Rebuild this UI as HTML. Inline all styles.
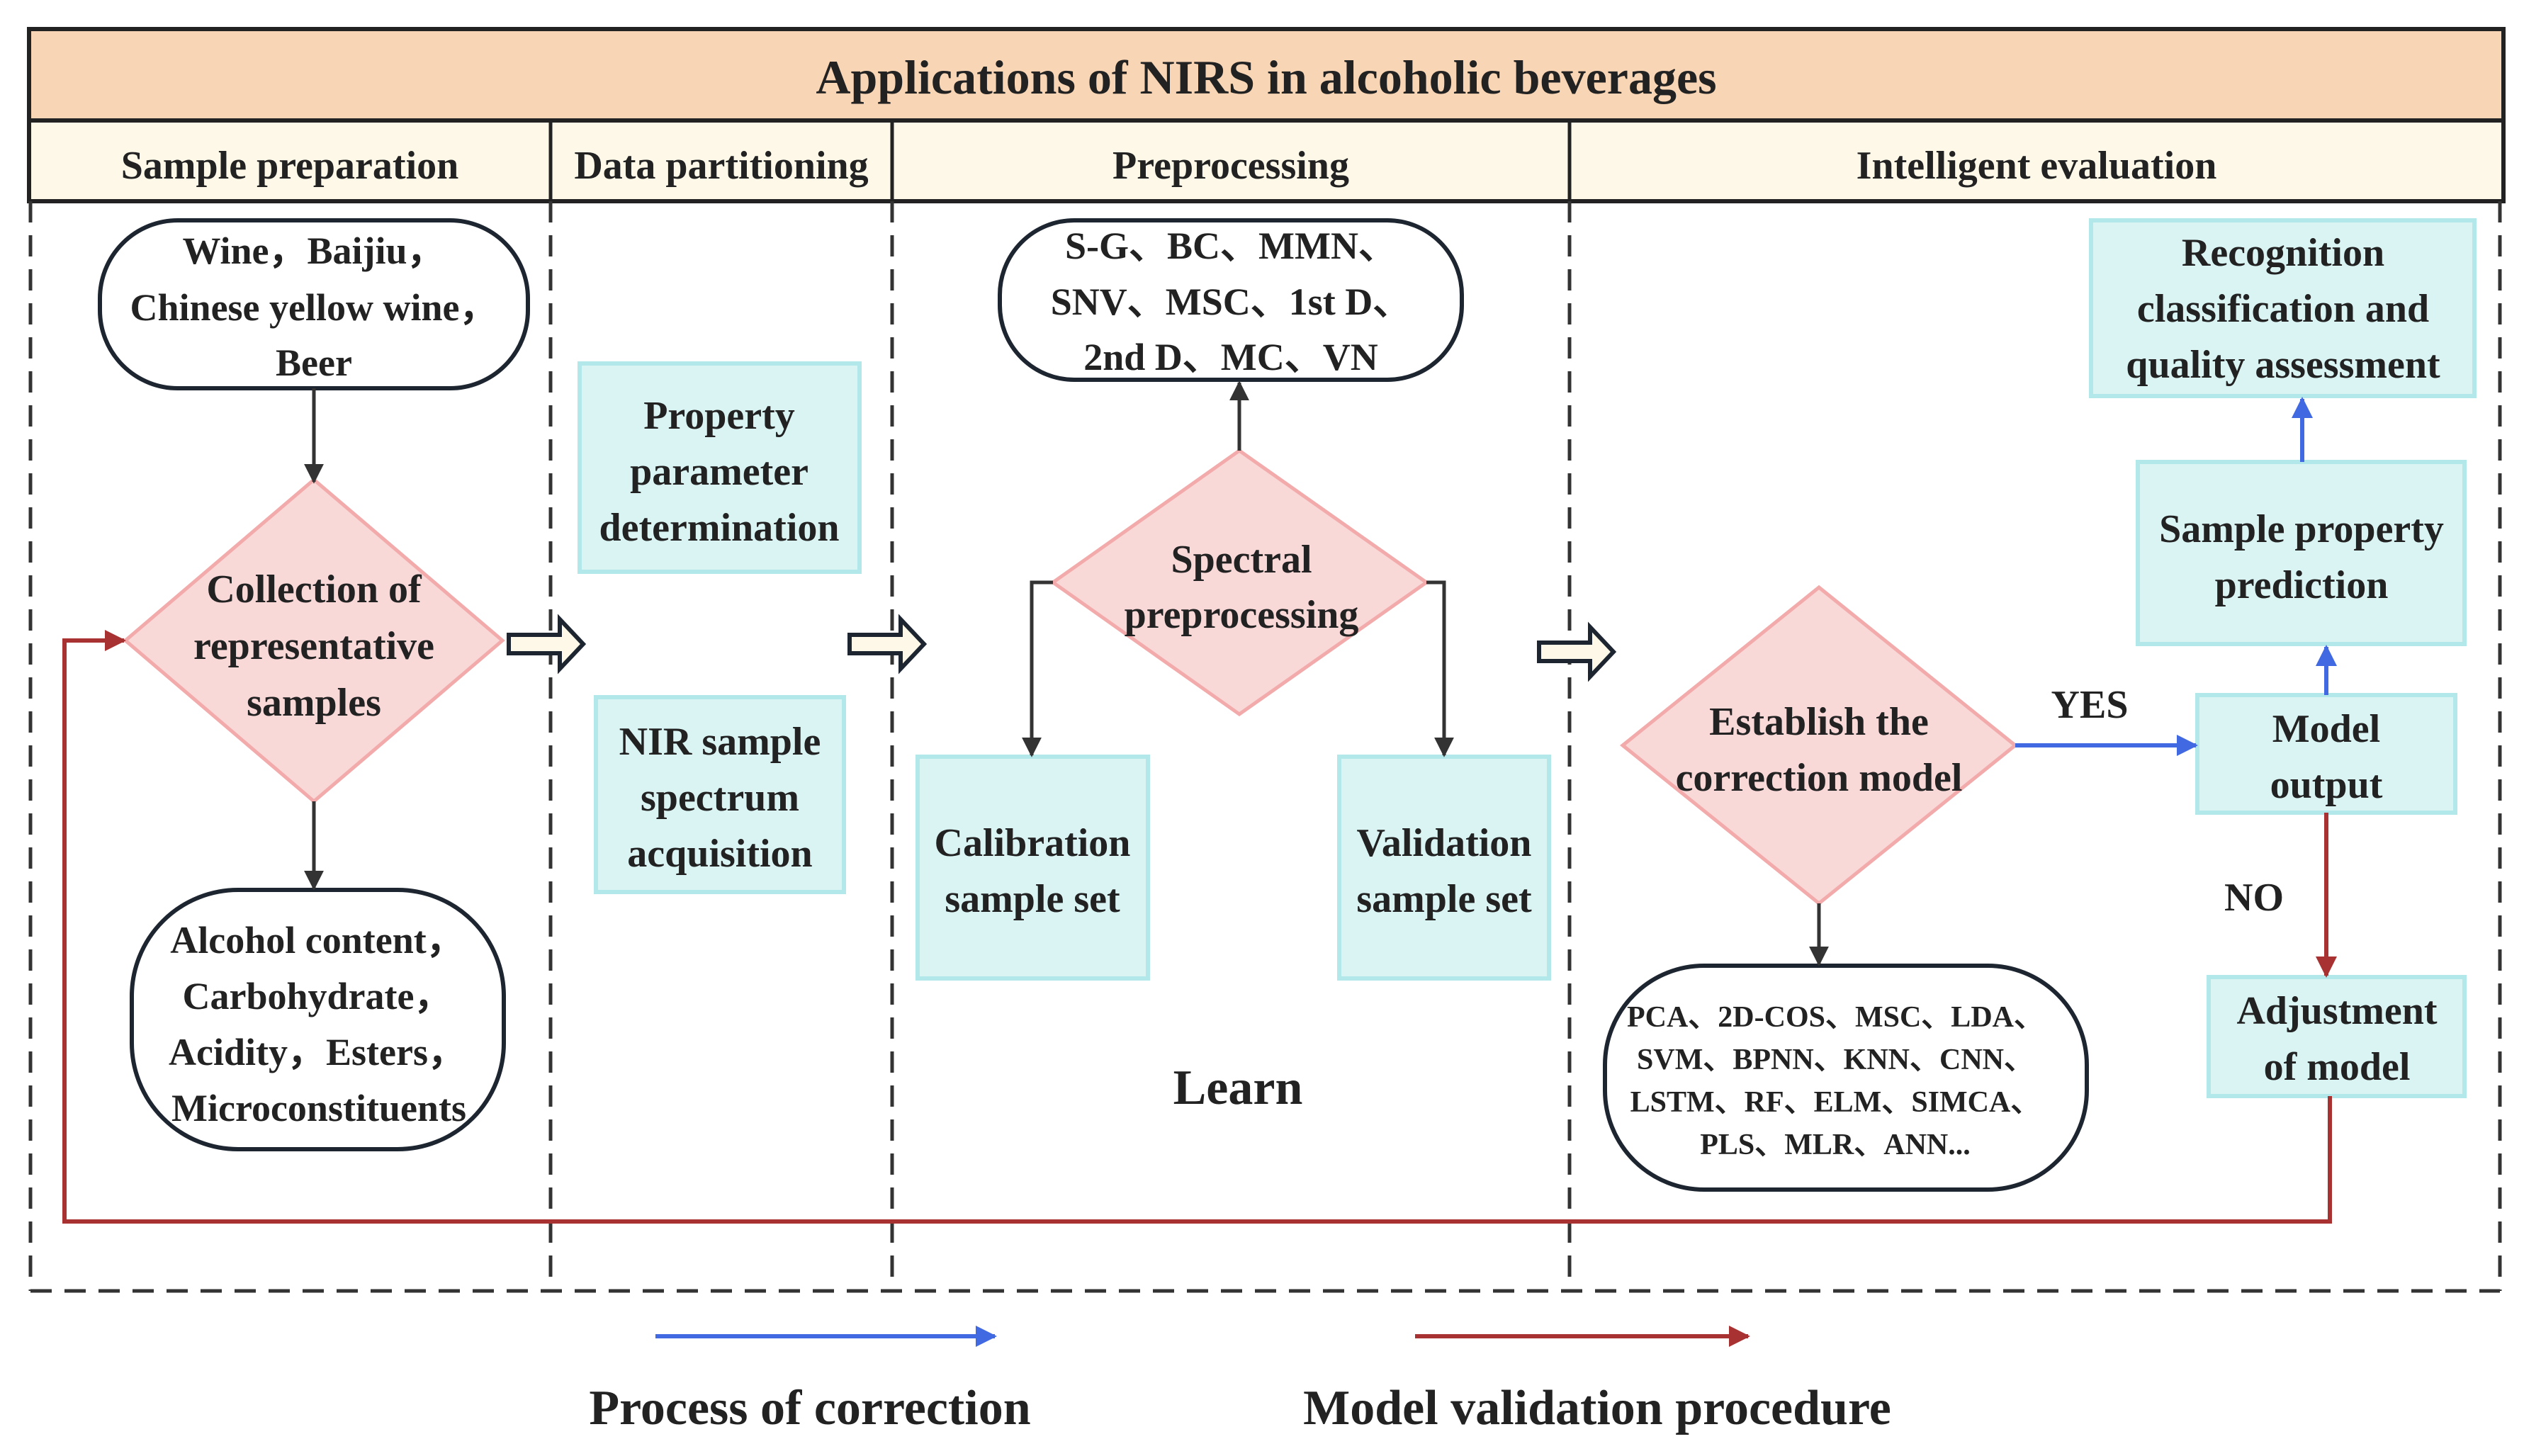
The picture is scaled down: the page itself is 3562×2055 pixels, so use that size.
<!DOCTYPE html>
<html><head><meta charset="utf-8"><style>
html,body{margin:0;padding:0;background:#fff;}
svg{display:block;}
text{font-family:"Liberation Serif","Times New Roman",serif;font-weight:bold;fill:#222;text-anchor:middle;}
</style></head><body>
<svg width="3562" height="2055" viewBox="0 0 3562 2055" xmlns="http://www.w3.org/2000/svg" font-family="Liberation Serif, serif">
<defs>
<marker id="ab" viewBox="0 0 10 10" refX="9" refY="5" markerWidth="30" markerHeight="30" orient="auto" markerUnits="userSpaceOnUse"><path d="M0,0 L10,5 L0,10 z" fill="#4169e1"/></marker>
<marker id="ar" viewBox="0 0 10 10" refX="9" refY="5" markerWidth="30" markerHeight="30" orient="auto" markerUnits="userSpaceOnUse"><path d="M0,0 L10,5 L0,10 z" fill="#a83232"/></marker>
<marker id="ak2" viewBox="0 0 10 10" refX="9" refY="5" markerWidth="28" markerHeight="28" orient="auto" markerUnits="userSpaceOnUse"><path d="M0,0 L10,5 L0,10 z" fill="#333"/></marker>
</defs>
<rect x="41" y="41" width="3492" height="129" fill="#f8d5b4" stroke="#222" stroke-width="6"/>
<text x="1787" y="132" font-size="68">Applications of NIRS in alcoholic beverages</text>
<rect x="41" y="170" width="3492" height="114" fill="#fdf8e8" stroke="#222" stroke-width="6"/>
<line x1="777" y1="170" x2="777" y2="284" stroke="#222" stroke-width="5"/>
<line x1="1259" y1="170" x2="1259" y2="284" stroke="#222" stroke-width="5"/>
<line x1="2215" y1="170" x2="2215" y2="284" stroke="#222" stroke-width="5"/>
<g font-size="56">
<text x="409" y="252">Sample preparation</text>
<text x="1018" y="252">Data partitioning</text>
<text x="1737" y="252">Preprocessing</text>
<text x="2874" y="252">Intelligent evaluation</text>
</g>
<g stroke="#333" stroke-width="5" stroke-dasharray="30,18" fill="none">
<line x1="43" y1="284" x2="43" y2="1822"/>
<line x1="3528" y1="284" x2="3528" y2="1822"/>
<line x1="43" y1="1822" x2="3528" y2="1822"/>
<line x1="777" y1="284" x2="777" y2="1822"/>
<line x1="1259" y1="284" x2="1259" y2="1822"/>
<line x1="2215" y1="284" x2="2215" y2="1822"/>
</g>
<g fill="#fff" stroke="#1c2530" stroke-width="6">
<rect x="141" y="311" width="604" height="237" rx="110"/>
<rect x="186" y="1256" width="525" height="366" rx="150"/>
<rect x="1411" y="311" width="652" height="225" rx="105"/>
<rect x="2265" y="1363" width="680" height="316" rx="140"/>
</g>
<g font-size="54">
<text x="443" y="372">Wine，Baijiu，</text>
<text x="443" y="452">Chinese yellow wine，</text>
<text x="443" y="530">Beer</text>
<text x="448" y="1345">Alcohol content，</text>
<text x="448" y="1424">Carbohydrate，</text>
<text x="448" y="1503">Acidity，Esters，</text>
<text x="450" y="1582">Microconstituents</text>
<text x="1737" y="365">S-G、BC、MMN、</text>
<text x="1737" y="444">SNV、MSC、1st D、</text>
<text x="1737" y="522">2nd D、MC、VN</text>
</g>
<g font-size="42">
<text x="2590" y="1449">PCA、2D-COS、MSC、LDA、</text>
<text x="2590" y="1509">SVM、BPNN、KNN、CNN、</text>
<text x="2590" y="1569">LSTM、RF、ELM、SIMCA、</text>
<text x="2590" y="1629">PLS、MLR、ANN...</text>
</g>
<g fill="#f9d8d8" stroke="#f2aaaa" stroke-width="5">
<polygon points="443,677 709,904 443,1131 177,904"/>
<polygon points="1749,636 2013,822 1749,1008 1486,822"/>
<polygon points="2567,829 2844,1052 2567,1275 2290,1052"/>
</g>
<g font-size="56">
<text x="443" y="850">Collection of</text>
<text x="443" y="930">representative</text>
<text x="443" y="1010">samples</text>
<text x="1752" y="808">Spectral</text>
<text x="1752" y="886">preprocessing</text>
<text x="2567" y="1037">Establish the</text>
<text x="2567" y="1116">correction model</text>
</g>
<g fill="#daf4f4" stroke="#b2e8ea" stroke-width="6">
<rect x="818" y="513" width="395" height="294"/>
<rect x="841" y="984" width="350" height="275"/>
<rect x="1295" y="1068" width="325" height="313"/>
<rect x="1890" y="1068" width="296" height="313"/>
<rect x="3101" y="981" width="364" height="166"/>
<rect x="3017" y="652" width="461" height="257"/>
<rect x="2951" y="311" width="541" height="248"/>
<rect x="3117" y="1379" width="361" height="168"/>
</g>
<g font-size="56">
<text x="1015" y="605">Property</text>
<text x="1015" y="684">parameter</text>
<text x="1015" y="763">determination</text>
<text x="1016" y="1065">NIR sample</text>
<text x="1016" y="1144">spectrum</text>
<text x="1016" y="1223">acquisition</text>
<text x="1457" y="1208">Calibration</text>
<text x="1457" y="1287">sample set</text>
<text x="2038" y="1208">Validation</text>
<text x="2038" y="1287">sample set</text>
<text x="3283" y="1047">Model</text>
<text x="3283" y="1126">output</text>
<text x="3248" y="765">Sample property</text>
<text x="3248" y="844">prediction</text>
<text x="3222" y="375">Recognition</text>
<text x="3222" y="454">classification and</text>
<text x="3222" y="533">quality assessment</text>
<text x="3298" y="1445">Adjustment</text>
<text x="3298" y="1524">of model</text>
<text x="2949" y="1013">YES</text>
<text x="3181" y="1285">NO</text>
</g>
<text x="1747" y="1558" font-size="70">Learn</text>
<g stroke="#333" stroke-width="5" fill="none" marker-end="url(#ak2)">
<line x1="443" y1="548" x2="443" y2="680"/>
<line x1="443" y1="1131" x2="443" y2="1254"/>
<line x1="1749" y1="636" x2="1749" y2="540"/>
<polyline points="1486,822 1456,822 1456,1066"/>
<polyline points="2013,822 2038,822 2038,1066"/>
<line x1="2567" y1="1275" x2="2567" y2="1361"/>
</g>
<g fill="#fdf8e8" stroke="#1c2530" stroke-width="6">
<path d="M718,896 L790,896 L790,874 L823,909 L790,944 L790,922 L718,922 Z"/>
<path d="M1199,896 L1271,896 L1271,874 L1304,909 L1271,944 L1271,922 L1199,922 Z"/>
<path d="M2172,907 L2244,907 L2244,885 L2277,920 L2244,955 L2244,933 L2172,933 Z"/>
</g>
<g stroke="#4169e1" stroke-width="6" fill="none" marker-end="url(#ab)">
<line x1="2844" y1="1052" x2="3099" y2="1052"/>
<line x1="3283" y1="981" x2="3283" y2="913"/>
<line x1="3249" y1="652" x2="3249" y2="563"/>
<line x1="925" y1="1886" x2="1404" y2="1886"/>
</g>
<g stroke="#a83232" stroke-width="6" fill="none" marker-end="url(#ar)">
<line x1="3283" y1="1147" x2="3283" y2="1377"/>
<polyline points="3288,1547 3288,1724 91,1724 91,904 175,904"/>
<line x1="1997" y1="1886" x2="2467" y2="1886"/>
</g>
<g font-size="70">
<text x="1143" y="2010">Process of correction</text>
<text x="2254" y="2010">Model validation procedure</text>
</g>
</svg>
</body></html>
